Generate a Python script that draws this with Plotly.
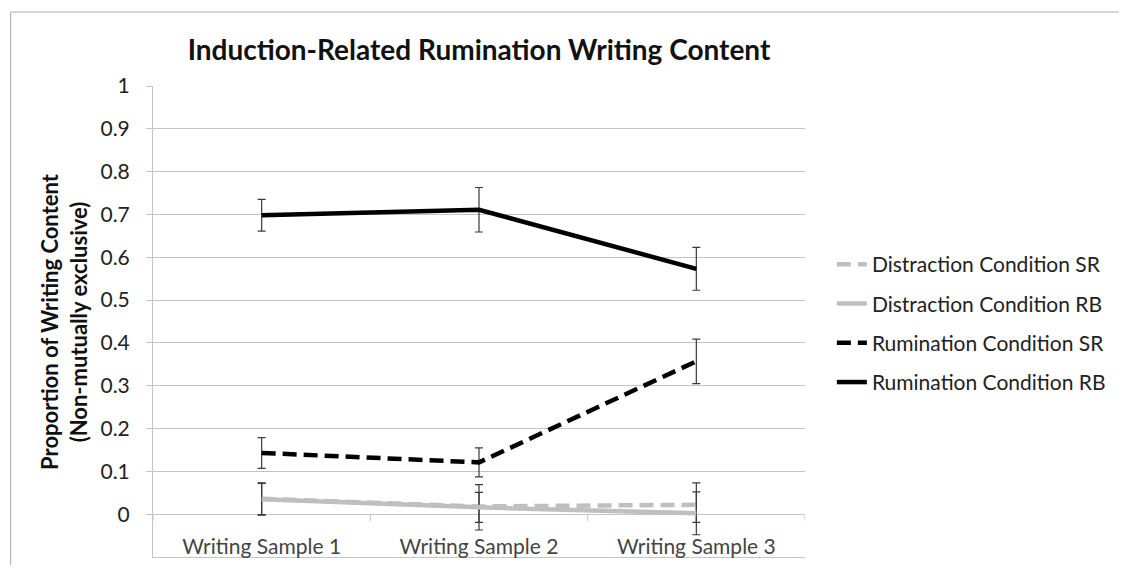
import plotly.graph_objects as go

categories = ["Writing Sample 1", "Writing Sample 2", "Writing Sample 3"]

series_names = [
    "Distraction Condition SR",
    "Distraction Condition RB",
    "Rumination Condition SR",
    "Rumination Condition RB",
]
dist_sr = [0.036, 0.018, 0.022]
dist_sr_plus = [0.037, 0.051, 0.051]
dist_sr_minus = [0.037, 0.037, 0.041]

dist_rb = [0.035, 0.016, 0.002]
dist_rb_plus = [0.037, 0.035, 0.050]
dist_rb_minus = [0.037, 0.053, 0.050]

rum_sr = [0.143, 0.121, 0.357]
rum_sr_err = [0.036, 0.034, 0.052]

rum_rb = [0.698, 0.711, 0.573]
rum_rb_err = [0.037, 0.052, 0.050]

y_ticks = [-0.1, 0, 0.1, 0.2, 0.3, 0.4, 0.5, 0.6, 0.7, 0.8, 0.9, 1]
y_tick_labels = ["-0.1", "0", "0.1", "0.2", "0.3", "0.4", "0.5", "0.6", "0.7", "0.8", "0.9", "1"]

FONT = "Lato, 'Open Sans', sans-serif"
GRAY = "#BFBFBF"
GRID = "#C4C4C4"
ERR = "#3A3A3A"

# figure sits inside the page body's default 8px margin
W, H = 1111, 557
L, R, T, B = 145, 311, 78, 8
PW, PH = W - L - R, H - T - B

fig = go.Figure()

def add(name, y, plus, minus, color, dash, group):
    fig.add_trace(go.Scatter(
        x=categories, y=y, name=name, mode="lines",
        line=dict(color=color, width=4.5, dash=dash),
        error_y=dict(type="data", symmetric=False, array=plus, arrayminus=minus,
                     color=ERR, thickness=1.2, width=4),
        legendgroup=group,
    ))

add(series_names[0], dist_sr, dist_sr_plus, dist_sr_minus, GRAY, "14px,7px", "a")
add(series_names[1], dist_rb, dist_rb_plus, dist_rb_minus, GRAY, "solid", "b")
add(series_names[2], rum_sr, rum_sr_err, rum_sr_err, "#000000", "14px,7px", "c")
add(series_names[3], rum_rb, rum_rb_err, rum_rb_err, "#000000", "solid", "d")

shapes = []
# category boundary tick marks on the zero line
for xb in [-0.5, 0.5, 1.5, 2.5]:
    shapes.append(dict(type="line", xref="x", yref="y", x0=xb, x1=xb, y0=0, y1=-0.016,
                       line=dict(color=GRID, width=1)))
# outer chart border
shapes.append(dict(type="rect", xref="paper", yref="paper",
                   x0=(2 - L) / PW, x1=(W + 20 - L) / PW,
                   y0=(T + PH - (H + 20)) / PH, y1=(T + PH - 4) / PH,
                   line=dict(color="#ABABAB", width=1), fillcolor="rgba(0,0,0,0)",
                   layer="below"))

fig.update_layout(
    width=W, height=H,
    margin=dict(l=L, r=R, t=T, b=B),
    paper_bgcolor="white", plot_bgcolor="white",
    font=dict(family=FONT, size=21, color="#222222"),
    title=dict(text="<b>Induction-Related Rumination Writing Content</b>",
               xref="paper", x=0.5, xanchor="center", y=1 - 42 / H, yanchor="middle",
               font=dict(family=FONT, size=28, color="#111111")),
    xaxis=dict(showgrid=False, showline=True, linecolor=GRID, linewidth=1,
               ticks="", ticklabelposition="inside",
               range=[-0.5, 2.5], tickfont=dict(size=21)),
    yaxis=dict(range=[-0.1, 1], tickvals=y_ticks, ticktext=y_tick_labels,
               showgrid=True, gridcolor=GRID, gridwidth=1,
               zeroline=True, zerolinecolor=GRID, zerolinewidth=1,
               showline=True, linecolor=GRID, linewidth=1,
               ticks="outside", ticklen=6, tickcolor=GRID,
               ticklabelstandoff=12, tickfont=dict(size=21)),
    legend=dict(x=(827 - L) / PW, xanchor="left", y=(T + PH - 236) / PH, yanchor="top",
                font=dict(size=21), tracegroupgap=9, bgcolor="rgba(0,0,0,0)"),
    showlegend=True,
    shapes=shapes,
    annotations=[dict(text="<b>Proportion of Writing Content<br>(Non-mutually exclusive)</b>",
                      xref="paper", yref="paper", x=(55 - L) / PW, y=0.5,
                      xanchor="center", yanchor="middle", textangle=-90, showarrow=False,
                      font=dict(family=FONT, size=22, color="#111111"))],
)

fig.write_html("out.html")
